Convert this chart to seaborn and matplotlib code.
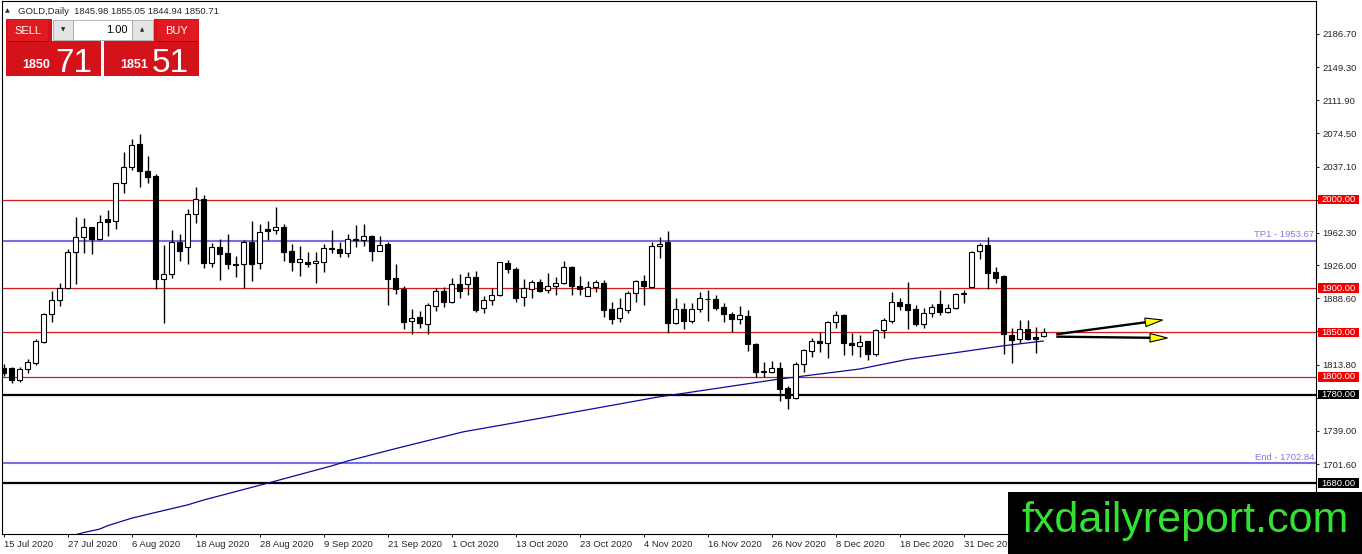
import numpy as np
import pandas as pd
import matplotlib
matplotlib.use("Agg")
import matplotlib.pyplot as plt
from matplotlib.patches import Rectangle, Polygon
import seaborn as sns

W, H = 1362, 554

# Trading days on the chart (weekdays, no bar on 25 Dec and 1 Jan)
dates = pd.bdate_range("2020-07-15", "2021-01-15")
dates = dates[~dates.isin(pd.to_datetime(["2020-12-25", "2021-01-01"]))]

opens = [1810.0, 1809.6, 1796.4, 1808.4, 1815.9, 1839.7, 1870.5, 1886.3, 1900.6, 1940.4,
         1957.3, 1968.6, 1955.1, 1978.0, 1975.4, 2018.3, 2036.3, 2062.6, 2032.5, 2026.5,
         1909.9, 1915.6, 1952.4, 1946.1, 1983.3, 2000.2, 1928.0, 1946.8, 1940.0, 1927.3,
         1926.9, 1952.4, 1928.0, 1966.7, 1965.6, 1968.6, 1941.9, 1929.1, 1929.9, 1928.0,
         1929.9, 1945.3, 1944.2, 1939.3, 1954.3, 1954.3, 1958.5, 1942.3, 1949.8, 1911.1,
         1898.7, 1863.3, 1867.8, 1859.2, 1879.9, 1896.8, 1884.0, 1904.3, 1904.3, 1912.2,
         1877.3, 1886.7, 1892.3, 1928.0, 1921.2, 1889.7, 1898.7, 1907.3, 1897.9, 1902.8,
         1905.5, 1923.5, 1902.4, 1891.5, 1901.0, 1906.2, 1876.1, 1866.0, 1875.4, 1894.2,
         1908.1, 1901.7, 1947.9, 1952.4, 1861.1, 1876.1, 1863.3, 1876.1, 1888.1, 1887.8,
         1879.1, 1870.5, 1864.8, 1868.6, 1837.0, 1805.8, 1805.8, 1809.6, 1787.0, 1775.7,
         1814.1, 1829.1, 1840.4, 1837.8, 1861.5, 1869.7, 1838.5, 1835.1, 1840.4, 1825.7,
         1852.8, 1863.0, 1884.0, 1881.8, 1876.1, 1859.2, 1871.6, 1881.8, 1872.7, 1877.3,
         1893.0, 1901.7, 1941.9, 1948.7, 1917.9, 1913.7, 1847.2, 1842.3, 1853.9, 1844.5,
         1845.98]
highs = [1814.0, 1811.5, 1810.7, 1819.7, 1843.0, 1871.6, 1896.8, 1905.4, 1943.8, 1979.9,
         1978.8, 1969.4, 1982.5, 1988.2, 2019.0, 2054.0, 2068.3, 2073.9, 2049.1, 2028.8,
         1948.7, 1965.6, 1961.1, 1988.9, 2014.5, 2005.1, 1951.3, 1955.1, 1961.1, 1936.3,
         1954.3, 1975.8, 1972.4, 1975.8, 1991.9, 1972.4, 1949.8, 1947.6, 1940.4, 1941.2,
         1949.8, 1965.6, 1952.4, 1961.1, 1971.2, 1972.4, 1960.0, 1958.8, 1952.4, 1927.3,
         1902.4, 1876.5, 1874.2, 1882.9, 1899.8, 1900.9, 1911.1, 1916.0, 1918.6, 1919.7,
         1891.2, 1899.8, 1929.9, 1931.8, 1923.5, 1910.3, 1909.2, 1909.9, 1917.5, 1913.0,
         1930.6, 1925.0, 1913.7, 1908.1, 1909.2, 1909.2, 1884.8, 1888.5, 1897.2, 1909.2,
         1914.9, 1952.4, 1958.1, 1964.5, 1888.5, 1882.9, 1882.9, 1896.1, 1897.9, 1892.3,
         1882.9, 1872.7, 1879.9, 1875.4, 1838.5, 1817.1, 1817.8, 1817.1, 1789.6, 1816.3,
         1831.4, 1843.4, 1850.2, 1862.9, 1874.2, 1870.5, 1849.1, 1847.2, 1840.8, 1853.9,
         1866.0, 1896.1, 1888.5, 1906.6, 1881.0, 1877.3, 1882.1, 1897.9, 1882.1, 1894.2,
         1897.9, 1942.3, 1951.3, 1957.3, 1923.5, 1914.9, 1854.7, 1864.1, 1864.1, 1855.8,
         1855.05]
lows = [1801.0, 1793.4, 1794.5, 1804.7, 1813.3, 1838.5, 1862.2, 1880.3, 1898.7, 1904.7,
        1940.0, 1938.2, 1954.3, 1958.9, 1966.4, 2007.7, 2033.3, 2013.7, 2018.3, 1898.7,
        1861.1, 1911.1, 1931.0, 1927.3, 1973.9, 1923.1, 1923.5, 1909.2, 1921.6, 1912.9,
        1900.5, 1908.5, 1921.6, 1954.3, 1961.1, 1931.0, 1919.7, 1914.1, 1923.5, 1905.4,
        1918.6, 1940.0, 1935.5, 1935.5, 1946.8, 1947.9, 1931.0, 1942.3, 1881.0, 1893.4,
        1853.6, 1848.3, 1854.7, 1848.3, 1874.2, 1879.1, 1882.9, 1888.5, 1892.3, 1873.5,
        1871.6, 1881.0, 1891.5, 1916.7, 1884.8, 1880.3, 1888.5, 1896.1, 1894.9, 1892.3,
        1904.7, 1892.3, 1892.3, 1891.2, 1896.1, 1867.8, 1859.2, 1862.2, 1872.4, 1884.8,
        1881.0, 1900.6, 1933.7, 1849.1, 1859.2, 1853.9, 1861.1, 1872.7, 1862.9, 1875.4,
        1862.2, 1850.9, 1859.6, 1829.5, 1800.2, 1800.2, 1803.9, 1773.1, 1763.3, 1774.6,
        1805.8, 1822.7, 1827.6, 1820.8, 1855.4, 1824.6, 1824.6, 1822.7, 1819.0, 1823.5,
        1843.4, 1860.3, 1875.4, 1853.6, 1857.7, 1855.4, 1867.8, 1869.7, 1871.6, 1876.5,
        1883.6, 1900.9, 1932.5, 1899.1, 1906.2, 1825.7, 1815.9, 1837.8, 1841.5, 1827.2,
        1844.94]
closes = [1804.0, 1796.4, 1808.4, 1816.3, 1840.8, 1870.5, 1886.3, 1900.6, 1940.4, 1957.3,
          1968.6, 1955.1, 1974.3, 1975.0, 2018.3, 2036.3, 2061.1, 2032.5, 2025.8, 1909.9,
          1915.6, 1952.4, 1942.3, 1983.3, 2000.2, 1928.0, 1946.1, 1938.5, 1926.9, 1926.5,
          1952.4, 1927.3, 1963.0, 1964.9, 1968.6, 1941.2, 1929.1, 1932.5, 1926.9, 1930.6,
          1944.9, 1944.5, 1939.3, 1955.1, 1955.1, 1958.5, 1942.3, 1948.7, 1910.3, 1899.0,
          1862.2, 1866.0, 1860.3, 1881.0, 1896.8, 1884.0, 1904.3, 1897.2, 1912.2, 1875.4,
          1886.7, 1892.3, 1929.1, 1921.2, 1889.3, 1899.8, 1906.6, 1897.2, 1902.8, 1905.5,
          1923.5, 1902.4, 1898.7, 1901.0, 1906.6, 1875.4, 1865.2, 1877.3, 1894.2, 1908.1,
          1902.4, 1947.9, 1949.4, 1861.1, 1876.1, 1863.3, 1876.1, 1888.5, 1887.8, 1878.0,
          1870.5, 1864.8, 1869.7, 1836.6, 1805.8, 1806.6, 1809.6, 1786.3, 1775.7, 1814.1,
          1830.3, 1840.4, 1837.8, 1861.5, 1869.7, 1837.8, 1835.9, 1838.9, 1825.4, 1852.8,
          1864.1, 1884.0, 1880.3, 1875.4, 1859.2, 1871.6, 1878.4, 1872.7, 1877.3, 1893.0,
          1894.2, 1941.2, 1948.7, 1916.7, 1911.8, 1848.3, 1841.5, 1853.9, 1842.6, 1843.0,
          1850.71]

# Moving average line, read at a few bars
ma_idx = [9, 10, 12, 13, 16, 19, 23, 25, 33, 41, 43, 49, 57.5, 66, 74, 82, 85, 97, 107, 113, 119, 125, 130]
ma_val = [1621.8, 1624.3, 1628.2, 1632.0, 1640.5, 1647.0, 1655.5, 1661.0, 1680.0, 1699.5, 1705.0,
          1719.0, 1738.0, 1751.5, 1764.5, 1777.5, 1781.4, 1797.5, 1808.8, 1819.7, 1827.2, 1835.0, 1840.4]

# Horizontal levels
red_levels = [2000.0, 1900.0, 1850.0, 1800.0]
black_levels = [1780.0, 1680.0]
blue_levels = [1953.67, 1702.84]
blue_names = ["TP1", "End"]

# Price axis ticks (labels of the ones under the level boxes are hidden)
price_ticks = [2186.70, 2149.30, 2111.90, 2074.50, 2037.10, 1999.70, 1962.30, 1926.00,
               1888.60, 1851.20, 1813.80, 1776.40, 1739.00, 1701.60]
hidden_ticks = [1999.70, 1851.20, 1776.40]

# Date axis labels
tick_dates = ["2020-07-15", "2020-07-27", "2020-08-06", "2020-08-18", "2020-08-28", "2020-09-09",
              "2020-09-21", "2020-10-01", "2020-10-13", "2020-10-23", "2020-11-04", "2020-11-16",
              "2020-11-26", "2020-12-08", "2020-12-18", "2020-12-31"]

# Projection arrows (bar index, price)
arrow_tail_x = 131.6
arrow_tail_y = [1848.0, 1845.3]
arrow_tip_x = [144.9, 145.5]
arrow_tip_y = [1864.1, 1843.8]

sns.set_style("white")
plt.rcParams['font.family'] = ['Liberation Sans', 'DejaVu Sans']

df = pd.DataFrame({'date': dates, 'open': opens, 'high': highs, 'low': lows, 'close': closes})
df['x'] = np.arange(len(df))
df['up'] = df['close'] >= df['open']

fig = plt.figure(figsize=(W / 100, H / 100), dpi=100)
fig.patch.set_facecolor('white')
ax = fig.add_axes([2 / W, 20 / H, 1314 / W, 533 / H])
ax.set_facecolor('white')

# levels behind the candles
for lv in red_levels:
    ax.axhline(lv, color='#d41c1c', lw=0.9, zorder=1)
for lv in black_levels:
    ax.axhline(lv, color='black', lw=1.6, zorder=1)
for lv, nm in zip(blue_levels, blue_names):
    ax.axhline(lv, color='#7b6fe6', lw=1.5, zorder=1)
    ax.text(0.9985, lv + 1.4, f"{nm} - {lv:.2f}", transform=ax.get_yaxis_transform(),
            ha='right', va='bottom', fontsize=6.8, color='#8378e8')

# moving average
sns.lineplot(x=ma_idx, y=ma_val, ax=ax, color='#0a0a9a', linewidth=0.9, zorder=2)

# candles
ax.vlines(df['x'], df['low'], df['high'], color='black', lw=1.0, zorder=3)
body = (df['close'] - df['open']).abs().clip(lower=0.4)
ax.bar(df['x'], body, bottom=np.minimum(df['open'], df['close']), width=0.6,
       color=np.where(df['up'], 'white', 'black'), edgecolor='black', linewidth=0.8, zorder=4)

ax.set_xlim(-0.1875, 164.0625)
ax.set_ylim(1622.7, 2223.9)
ax.set_xlabel('')
ax.set_ylabel('')

# date axis
tick_pos = [dates.get_loc(pd.Timestamp(d)) for d in tick_dates]
tick_lab = [f"{pd.Timestamp(d).day} {pd.Timestamp(d).strftime('%b %Y')}" for d in tick_dates]
ax.set_xticks(tick_pos)
ax.set_xticklabels(tick_lab, ha='left', fontsize=6.8)
ax.tick_params(axis='x', direction='out', length=2.5, width=0.8, pad=1.5, bottom=True)

# price axis on the right
ax.yaxis.tick_right()
ax.set_yticks(price_ticks)
ax.set_yticklabels(["" if v in hidden_ticks else f"{v:.2f}" for v in price_ticks], fontsize=6.8)
ax.tick_params(axis='y', direction='out', length=2.5, width=0.8, pad=2, right=True, left=False)

for sp in ax.spines.values():
    sp.set_color('black')
    sp.set_linewidth(0.8)

# price boxes on the right axis
box_w = 41.5 / 1314
box_x = (1317.5 - 2) / 1314
box_h = 9.6 * (2223.9 - 1622.7) / 533
for lv, fc in [(v, '#f00000') for v in red_levels] + [(v, 'black') for v in black_levels]:
    ax.add_patch(Rectangle((box_x, lv - box_h / 2), box_w, box_h, transform=ax.get_yaxis_transform(),
                           facecolor=fc, edgecolor='none', clip_on=False, zorder=6))
    ax.text(box_x + box_w / 2, lv, f"{lv:.2f}", transform=ax.get_yaxis_transform(),
            ha='center', va='center', fontsize=6.8, color='white', zorder=7, clip_on=False)

# arrows
fig.canvas.draw()
to_px = ax.transData
to_data = ax.transData.inverted()
for ty, tx2, ty2 in zip(arrow_tail_y, arrow_tip_x, arrow_tip_y):
    p0 = to_px.transform((arrow_tail_x, ty))
    p1 = to_px.transform((tx2, ty2))
    d = (p1 - p0) / np.hypot(*(p1 - p0))
    n = np.array([-d[1], d[0]])
    base = p1 - 17.5 * d
    b = to_data.transform(base)
    ax.plot([arrow_tail_x, b[0]], [ty, b[1]], color='black', lw=1.7, zorder=8, solid_capstyle='butt')
    head = to_data.transform(np.array([p1, base + 4.3 * n, base - 4.3 * n]))
    ax.add_patch(Polygon(head, closed=True, facecolor='#ffff00', edgecolor='black',
                         linewidth=0.8, zorder=9, clip_on=False))


def px_rect(x0, y0, x1, y1, **kw):
    r = Rectangle((x0 / W, 1 - y1 / H), (x1 - x0) / W, (y1 - y0) / H, transform=fig.transFigure, **kw)
    fig.add_artist(r)


def px_text(x, y, s, **kw):
    fig.text(x / W, 1 - y / H, s, **kw)


# header
px_text(5, 11, "▲", fontsize=4.5, va='center', family=['DejaVu Sans'])
px_text(18, 11, "GOLD,Daily  1845.98 1855.05 1844.94 1850.71", fontsize=6.8, va='center')

# trade panel
px_rect(6, 19, 101, 76, facecolor='#d3121a', edgecolor='none')
px_rect(104, 19, 199, 76, facecolor='#d3121a', edgecolor='none')
px_rect(8, 20, 48, 41, facecolor='#e01a20', edgecolor='none')
px_rect(157, 20, 198, 41, facecolor='#e01a20', edgecolor='none')
px_rect(9, 41, 47, 42, facecolor='#8e0a0a', edgecolor='none')
px_rect(157, 41, 197, 42, facecolor='#8e0a0a', edgecolor='none')
px_rect(52, 19, 154, 41, facecolor='white', edgecolor='none')
px_rect(53, 20, 73, 40, facecolor='#e4e4e4', edgecolor='#a8a8a8', linewidth=0.6)
px_rect(73, 20, 132, 40, facecolor='white', edgecolor='#a8a8a8', linewidth=0.6)
px_rect(132, 20, 153, 40, facecolor='#e4e4e4', edgecolor='#a8a8a8', linewidth=0.6)
px_text(63, 30, "▼", fontsize=4, ha='center', va='center', family=['DejaVu Sans'])
px_text(142, 30, "▲", fontsize=4, ha='center', va='center', family=['DejaVu Sans'])
px_text(128, 30, "1.00", fontsize=8, ha='right', va='center', color='black')
px_text(28, 30.5, "SELL", fontsize=8, ha='center', va='center', color='white')
px_text(177, 30.5, "BUY", fontsize=8, ha='center', va='center', color='white')
px_text(22, 68, "1850", fontsize=9, fontweight='bold', ha='left', va='baseline', color='white')
px_text(120, 68, "1851", fontsize=9, fontweight='bold', ha='left', va='baseline', color='white')
px_text(55, 72, "71", fontsize=24, ha='left', va='baseline', color='white',
        family=['Liberation Sans Narrow', 'Liberation Sans'])
px_text(152, 72, "51", fontsize=24, ha='left', va='baseline', color='white',
        family=['Liberation Sans Narrow', 'Liberation Sans'])

# watermark
px_rect(1008, 492, 1362, 554, facecolor='black', edgecolor='none', zorder=10)
px_text(1185, 521, "fxdailyreport.com", fontsize=31, ha='center', va='center',
        color='#33e033', zorder=11)

fig.savefig("out.png", dpi=100)
